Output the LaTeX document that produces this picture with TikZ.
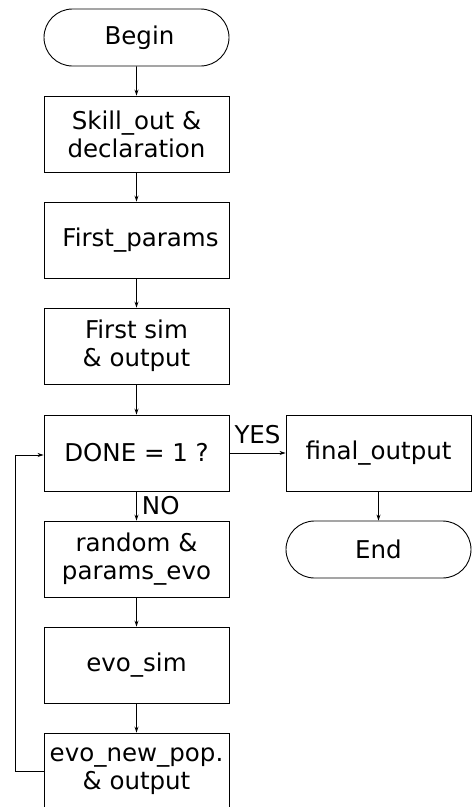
\documentclass[tikz,border=0pt]{standalone}
\usepackage{fontspec}
\setmainfont{DejaVu Sans}
\usetikzlibrary{arrows.meta,shapes.misc}
\tikzset{
  box/.style={draw, line width=0.9pt, minimum width=185pt, minimum height=76pt, inner sep=0pt, align=center, font=\fontsize{24.5}{28}\selectfont},
  term/.style={draw, line width=0.9pt, rounded rectangle, minimum width=185pt, minimum height=57pt, inner sep=0pt, font=\fontsize{24.5}{28}\selectfont},
  conn/.style={line width=0.9pt, -{Stealth[length=6pt,width=4pt]}},
  lbl/.style={font=\fontsize{24.5}{28}\selectfont, inner sep=0pt}
}
\begin{document}
\begin{tikzpicture}[x=1pt,y=-1pt]
\useasboundingbox (0,0) rectangle (472,807);
\node[term] (begin) at (136.5,37.5) {\hspace{6pt}Begin};
\node[box] (skill) at (136.5,134) {Skill\_out \&\\declaration};
\node[box] (fp) at (136.5,240) {\hspace{8pt}First\_params};
\node[box] (fs) at (136.5,346) {First sim\\\hspace{0pt}\& output};
\node[box] (done) at (136.5,453) {DONE = 1 ?};
\node[box] (fo) at (378.5,453) {final\_output};
\node[term] (end) at (378.5,549.5) {End};
\node[box] (rnd) at (136.5,559) {random \&\\params\_evo};
\node[box] (evo) at (136.5,665) {evo\_sim};
\node[box] (pop) at (136.5,771) {evo\_new\_pop.\\\& output};
\coordinate (c1) at (15,771);
\coordinate (c2) at (15,455);
\draw[conn] (begin) -- (skill);
\draw[conn] (skill) -- (fp);
\draw[conn] (fp) -- (fs);
\draw[conn] (fs) -- (done);
\draw[conn] (done) -- node[lbl, above, yshift=9pt] (yes) {YES} (fo);
\draw[conn] (done) -- node[lbl, right, xshift=5pt] (no) {NO} (rnd);
\draw[conn] (rnd) -- (evo);
\draw[conn] (evo) -- (pop);
\draw[conn] (fo) -- (end);
\draw[conn] (pop.west) -- (c1) -- (c2) -- (c2 -| done.west);
\end{tikzpicture}
\end{document}
